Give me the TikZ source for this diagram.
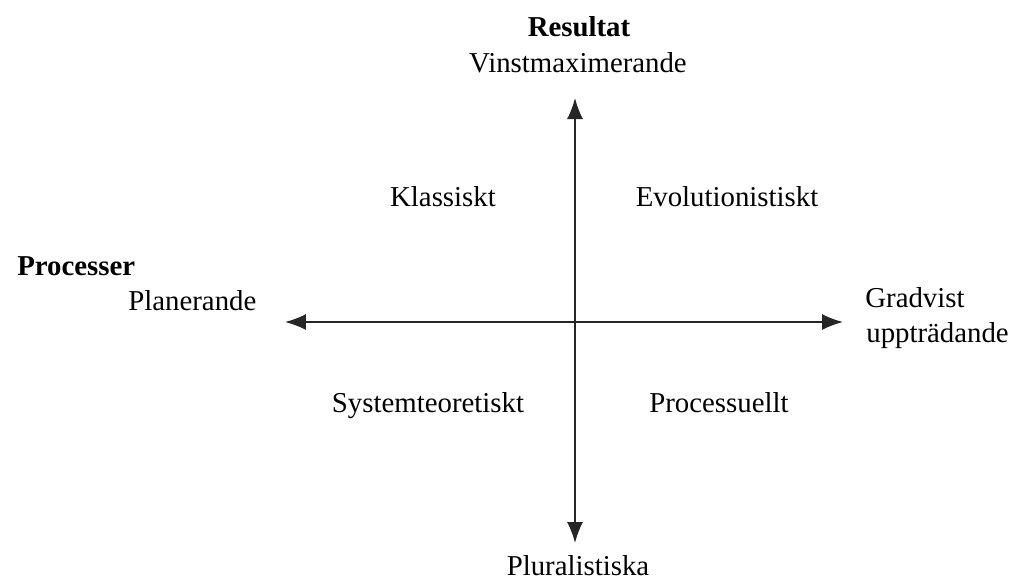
\documentclass[tikz,border=0pt]{standalone}
\usepackage{fontspec}
\setmainfont{Liberation Serif}
\usetikzlibrary{arrows.meta,positioning}

\begin{document}
\begin{tikzpicture}[x=0.02cm,y=-0.02cm,
  lbl/.style={font=\fontsize{16.4}{19.5}\selectfont,inner sep=0pt,anchor=base},
  ttl/.style={lbl,font=\fontsize{16.4}{19.5}\selectfont\bfseries},
  ax/.style={{Latex[length=0.42cm,width=0.32cm]}-{Latex[length=0.42cm,width=0.32cm]},line width=0.9pt,black!85}]
  \useasboundingbox (0,0) rectangle (1015,582);
  % axes
  \coordinate (top) at (575,98);
  \coordinate (bot) at (575,543);
  \coordinate (lft) at (285,322);
  \coordinate (rgt) at (843,322);
  \draw[ax] (bot) -- (top);
  \draw[ax] (lft) -- (rgt);
  % ends of the axes
  \node[ttl] (res) at (579,36) {Resultat};
  \node[lbl] (vinst) at (578,72) {Vinstmaximerande};
  \node[lbl] (plur) at (578,575) {Pluralistiska};
  \node[ttl,anchor=base west] (proc) at (17,275) {Processer};
  \node[lbl,anchor=base west] (plan) at (128,310) {Planerande};
  \node[lbl,anchor=base west] (grad) at (865,307) {Gradvist};
  \node[lbl,anchor=base west] (uppt) at (866,342) {uppträdande};
  % quadrants
  \node[lbl] (klass) at (443,206) {Klassiskt};
  \node[lbl] (evol) at (727,206) {Evolutionistiskt};
  \node[lbl] (syst) at (428,412) {Systemteoretiskt};
  \node[lbl] (procs) at (719,412) {Processuellt};
\end{tikzpicture}
\end{document}
